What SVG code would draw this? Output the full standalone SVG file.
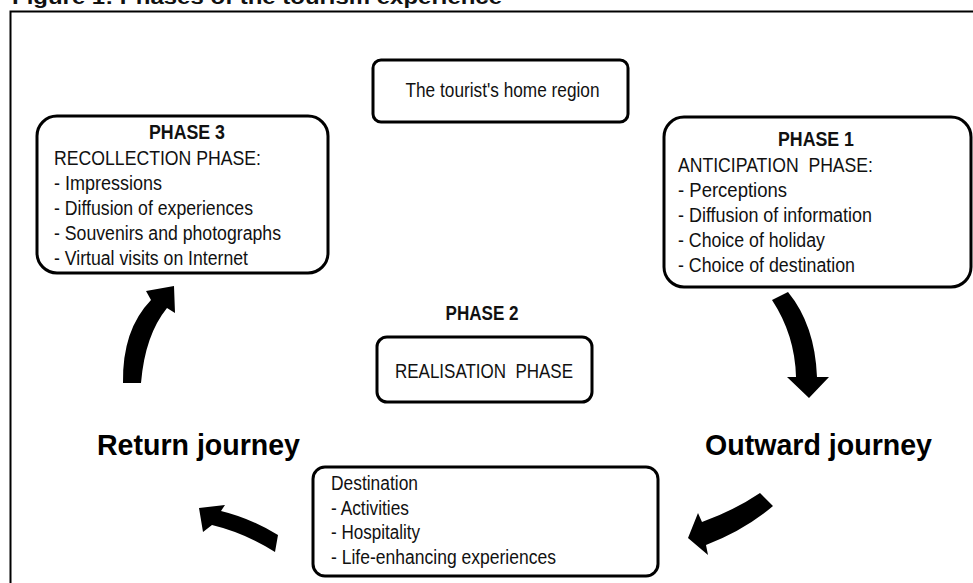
<svg xmlns="http://www.w3.org/2000/svg" width="973" height="583" viewBox="0 0 973 583">
  <style>
    .box { fill: #ffffff; stroke: #000000; stroke-width: 3; }
    .frame { fill: none; stroke: #000000; stroke-width: 2; }
    .t { font-family: "Liberation Sans", Arial, sans-serif; font-size: 19.5px; fill: #111111; }
    .b { font-weight: bold; }
    .big { font-family: "Liberation Sans", Arial, sans-serif; font-size: 30px; font-weight: bold; fill: #000000; }
    .arrow { fill: #000000; stroke: none; }
  </style>
  <rect width="973" height="583" fill="#ffffff"/>
  <text x="12" y="4" class="t b" style="font-size:20px" textLength="490" lengthAdjust="spacingAndGlyphs">Figure 1: Phases of the tourism experience</text>
  <path class="frame" d="M10.5 583 L10.5 11.5 L973 11.5"/>

  <g id="home-region">
    <rect class="box" x="373" y="60" width="255" height="62" rx="8"/>
    <text class="t" x="502.5" y="97" text-anchor="middle" textLength="194" lengthAdjust="spacingAndGlyphs">The tourist's home region</text>
  </g>

  <g id="phase3">
    <rect class="box" x="37" y="116" width="291" height="157" rx="20"/>
    <text class="t b" x="187" y="139" text-anchor="middle" textLength="76" lengthAdjust="spacingAndGlyphs">PHASE 3</text>
    <text class="t" x="54" y="165" textLength="207" lengthAdjust="spacingAndGlyphs">RECOLLECTION PHASE:</text>
    <text class="t" x="54" y="189.5" textLength="108" lengthAdjust="spacingAndGlyphs">- Impressions</text>
    <text class="t" x="54" y="214.5" textLength="199" lengthAdjust="spacingAndGlyphs">- Diffusion of experiences</text>
    <text class="t" x="54" y="239.5" textLength="227" lengthAdjust="spacingAndGlyphs">- Souvenirs and photographs</text>
    <text class="t" x="54" y="264.5" textLength="194" lengthAdjust="spacingAndGlyphs">- Virtual visits on Internet</text>
  </g>

  <g id="phase1">
    <rect class="box" x="664" y="117" width="307" height="170" rx="20"/>
    <text class="t b" x="816" y="146" text-anchor="middle" textLength="76" lengthAdjust="spacingAndGlyphs">PHASE 1</text>
    <text class="t" x="678" y="171.5" xml:space="preserve" textLength="195" lengthAdjust="spacingAndGlyphs">ANTICIPATION  PHASE:</text>
    <text class="t" x="678" y="196.5" textLength="109" lengthAdjust="spacingAndGlyphs">- Perceptions</text>
    <text class="t" x="678" y="221.5" textLength="194" lengthAdjust="spacingAndGlyphs">- Diffusion of information</text>
    <text class="t" x="678" y="246.5" textLength="147" lengthAdjust="spacingAndGlyphs">- Choice of holiday</text>
    <text class="t" x="678" y="271.5" textLength="177" lengthAdjust="spacingAndGlyphs">- Choice of destination</text>
  </g>

  <g id="phase2">
    <text class="t b" x="482" y="320" text-anchor="middle" textLength="73" lengthAdjust="spacingAndGlyphs">PHASE 2</text>
    <rect class="box" x="377" y="337" width="215" height="65" rx="10"/>
    <text class="t" x="395" y="378" xml:space="preserve" textLength="178" lengthAdjust="spacingAndGlyphs">REALISATION  PHASE</text>
  </g>

  <g id="destination">
    <rect class="box" x="313" y="467" width="345" height="109" rx="12"/>
    <text class="t" x="331" y="490" textLength="87" lengthAdjust="spacingAndGlyphs">Destination</text>
    <text class="t" x="331" y="514.5" textLength="78" lengthAdjust="spacingAndGlyphs">- Activities</text>
    <text class="t" x="331" y="539" textLength="89" lengthAdjust="spacingAndGlyphs">- Hospitality</text>
    <text class="t" x="331" y="563.5" textLength="225" lengthAdjust="spacingAndGlyphs">- Life-enhancing experiences</text>
  </g>

  <g id="outward-journey">
    <text class="big" x="705" y="455" textLength="227" lengthAdjust="spacingAndGlyphs">Outward journey</text>
  </g>

  <g id="return-journey">
    <text class="big" x="97" y="455" textLength="203" lengthAdjust="spacingAndGlyphs">Return journey</text>
  </g>

  <g id="connectors">
    <path class="arrow" d="M772 300 Q795 335 796 377 L787 377 L809 398 L829 377 L817 377 Q815 325 788 292 Z"/>
    <path class="arrow" d="M760 493 Q735 510 702 522 L698 513 L688 538 L708 555 L706 545 Q745 530 773 506 Z"/>
    <path class="arrow" d="M278 535 Q250 518 221 511 L225 505 L199 508 L203 532 L212 525 Q245 533 275 552 Z"/>
    <path class="arrow" d="M123 383 Q122 330 151 300 L146 291 L174 286 L175 313 L167 308 Q145 335 141 383 Z"/>
  </g>
</svg>
